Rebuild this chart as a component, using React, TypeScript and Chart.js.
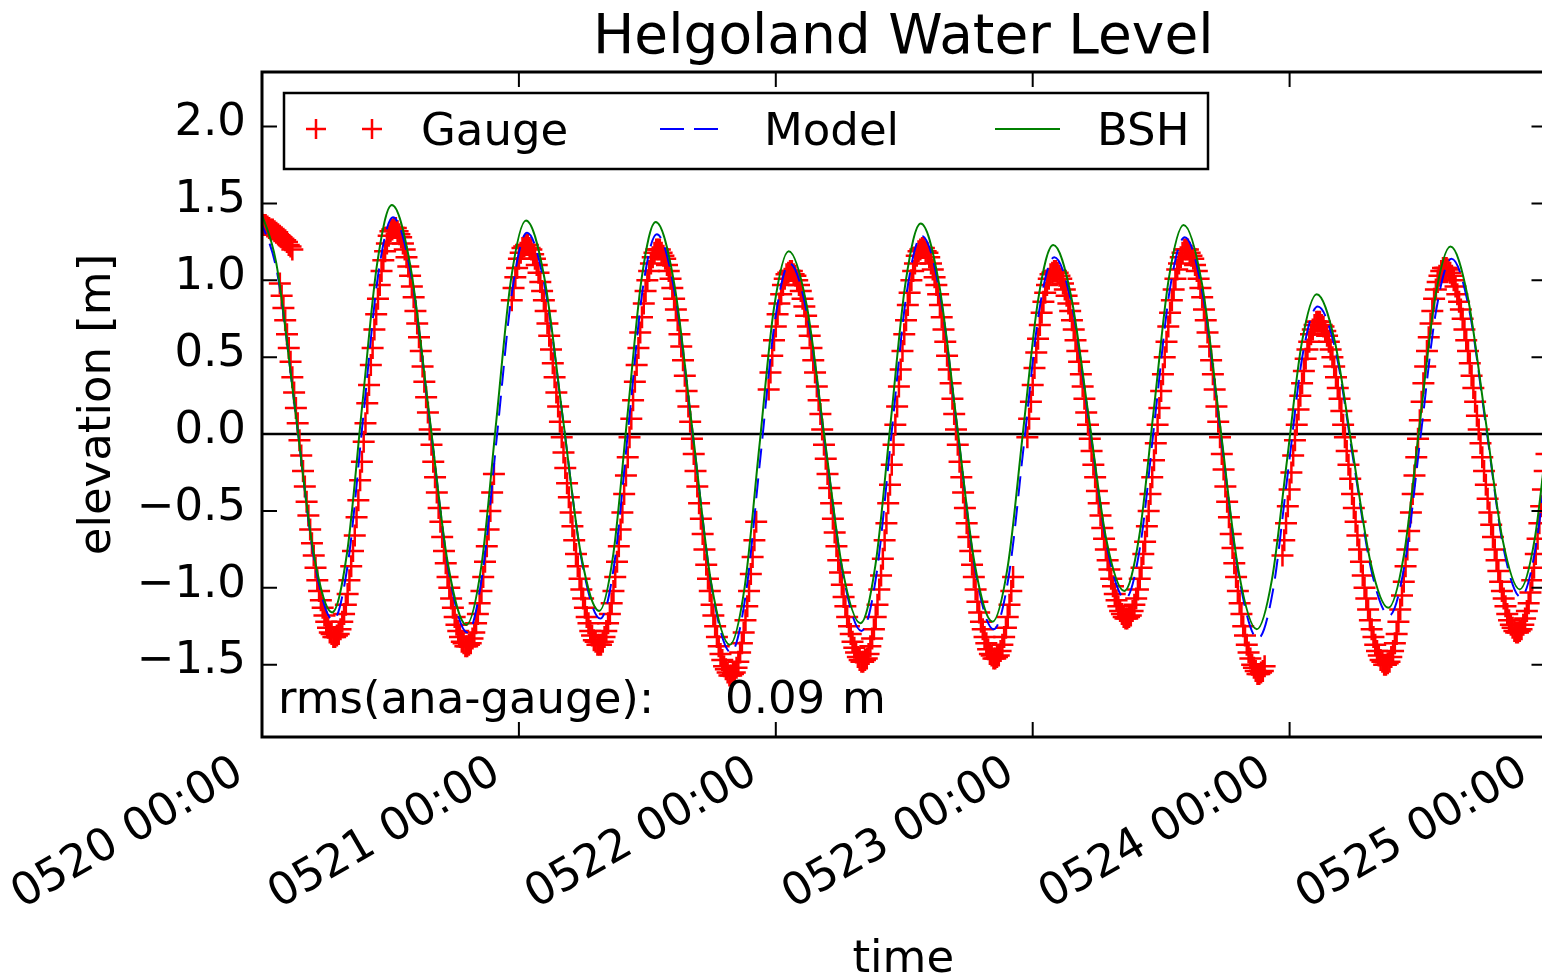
import React, { useEffect, useRef } from 'react';
import { Chart, registerables } from 'chart.js';

Chart.register(...registerables);

// ---------- texts ----------
const TITLE = 'Helgoland Water Level';
const X_TITLE = 'time';
const Y_TITLE = 'elevation [m]';
const RMS_LABEL = 'rms(ana-gauge):';
const RMS_VALUE = '0.09';
const RMS_UNIT = 'm';
const SERIES_NAMES = ['Gauge', 'Model', 'BSH'];

// ---------- axes (hours since 0520 00:00) ----------
const X_MIN = 0;
const X_MAX = 120;
const X_TICK_HOURS = [0, 24, 48, 72, 96, 120];
const X_TICK_LABELS = ['0520 00:00', '0521 00:00', '0522 00:00', '0523 00:00', '0524 00:00', '0525 00:00'];
const Y_MIN = -1.97;
const Y_MAX = 2.355;
const Y_TICKS = [-1.5, -1.0, -0.5, 0.0, 0.5, 1.0, 1.5, 2.0];

// ---------- gauge (10-minute samples) ----------
const GAUGE_STEP_HOURS = 1 / 6;
const GAUGE_CLUSTER_START = 0;
const GAUGE_CLUSTER = [1.37, 1.36, 1.36, 1.35, 1.34, 1.33, 1.33, 1.32, 1.31, 1.30, 1.29, 1.28, 1.27, 1.26, 1.25, 1.23, 1.22, 1.20];
const GAUGE_START = 10 / 6;
const GAUGE: (number | null)[] = [
  0.98, 0.90, 0.82, 0.74, 0.65, 0.56, 0.47, 0.37, 0.27, 0.17, 0.07, -0.04, -0.14, -0.24, -0.34, -0.44, -0.53, -0.62, -0.71, -0.79, -0.87, -0.95, -1.02, -1.08, -1.13, -1.18, -1.22, -1.26, -1.29, -1.30, -1.32, -1.32,
  -1.31, -1.30, -1.27, -1.22, -1.17, -1.11, -1.04, -0.95, -0.86, -0.76, -0.66, -0.54, -0.43, -0.30, -0.18, -0.05, 0.07, 0.20, 0.32, 0.45, 0.56, 0.68, 0.78, 0.88, 0.97, 1.06, 1.13, 1.19, 1.24, 1.29, 1.32, 1.33, 1.34,
  1.34, 1.32, 1.30, 1.28, 1.24, 1.20, 1.15, 1.09, 1.03, 0.96, 0.89, 0.80, 0.72, 0.63, 0.54, 0.44, 0.34, 0.24, 0.14, 0.03, -0.07, -0.18, -0.28, -0.38, -0.48, -0.57, -0.67, -0.76, -0.84, -0.93, -1.00, -1.07, -1.13, -1.19, -1.24, -1.28, -1.32, -1.35, -1.36, -1.38, -1.38,
  -1.37, -1.36, -1.33, -1.29, -1.23, -1.17, -1.10, -1.02, -0.93, -0.83, -0.73, -0.62, -0.50, -0.38, -0.26, null, null, null, null, null, null, null, null, null, 0.87, 0.95, 1.02, 1.08, 1.14, 1.18, 1.21, 1.22, 1.23,
  1.23, 1.21, 1.20, 1.17, 1.14, 1.10, 1.05, 0.99, 0.93, 0.87, 0.80, 0.72, 0.64, 0.55, 0.46, 0.37, 0.27, 0.18, 0.08, -0.02, -0.12, -0.22, -0.32, -0.41, -0.51, -0.60, -0.69, -0.78, -0.86, -0.94, -1.01, -1.07, -1.13, -1.19, -1.23, -1.28, -1.31, -1.34, -1.35, -1.37, -1.37,
  -1.37, -1.35, -1.32, -1.28, -1.23, -1.17, -1.10, -1.02, -0.93, -0.83, -0.73, -0.62, -0.51, -0.39, -0.27, -0.15, -0.02, 0.10, 0.22, 0.34, 0.45, 0.56, 0.66, 0.76, 0.85, 0.93, 1.00, 1.06, 1.11, 1.15, 1.18, 1.20, 1.20,
  1.20, 1.18, 1.16, 1.14, 1.10, 1.06, 1.01, 0.95, 0.88, 0.81, 0.74, 0.65, 0.57, 0.48, 0.38, 0.28, 0.18, 0.08, -0.03, -0.13, -0.24, -0.34, -0.45, -0.55, -0.65, -0.75, -0.85, -0.94, -1.02, -1.11, -1.18, -1.25, -1.32, -1.38, -1.43, -1.47, -1.51, -1.53, -1.55, -1.57, -1.57,
  -1.56, -1.55, -1.52, -1.48, -1.42, -1.36, -1.29, -1.21, -1.12, -1.02, -0.91, -0.80, -0.69, -0.57, null, null, null, null, null, null, 0.29, 0.40, 0.51, 0.61, 0.70, 0.78, 0.85, 0.91, 0.97, 1.01, 1.04, 1.05, 1.06,
  1.06, 1.04, 1.03, 1.00, 0.97, 0.93, 0.88, 0.83, 0.77, 0.70, 0.64, 0.56, 0.48, 0.40, 0.31, 0.22, 0.13, 0.03, -0.07, -0.16, -0.26, -0.35, -0.45, -0.55, -0.64, -0.73, -0.82, -0.90, -0.98, -1.06, -1.12, -1.19, -1.25, -1.30, -1.35, -1.39, -1.42, -1.45, -1.47, -1.48, -1.48,
  -1.47, -1.46, -1.43, -1.38, -1.33, -1.27, -1.19, -1.11, -1.01, -0.92, -0.81, -0.69, -0.58, -0.45, -0.33, -0.20, -0.07, 0.06, 0.18, 0.31, 0.42, 0.54, 0.65, 0.74, 0.84, 0.92, 1.00, 1.06, 1.11, 1.16, 1.19, 1.20, 1.21,
  1.21, 1.19, 1.18, 1.15, 1.11, 1.07, 1.02, 0.97, 0.91, 0.84, 0.76, 0.68, 0.60, 0.51, 0.42, 0.33, 0.23, 0.13, 0.03, -0.07, -0.18, -0.28, -0.38, -0.48, -0.58, -0.67, -0.76, -0.85, -0.93, -1.01, -1.09, -1.16, -1.22, -1.27, -1.32, -1.36, -1.40, -1.43, -1.44, -1.46, -1.46,
  -1.45, -1.44, -1.41, -1.37, -1.32, -1.26, -1.19, -1.11, -1.02, -0.93, null, null, null, null, null, null, null, -0.02, 0.10, 0.21, 0.32, 0.43, 0.53, 0.62, 0.71, 0.79, 0.86, 0.92, 0.97, 1.01, 1.04, 1.05, 1.06,
  1.06, 1.05, 1.03, 1.01, 0.98, 0.94, 0.90, 0.85, 0.80, 0.74, 0.68, 0.61, 0.54, 0.47, 0.39, 0.31, 0.23, 0.14, 0.06, -0.03, -0.11, -0.20, -0.28, -0.37, -0.45, -0.53, -0.61, -0.68, -0.75, -0.82, -0.88, -0.94, -0.99, -1.04, -1.08, -1.12, -1.15, -1.17, -1.19, -1.20, -1.20,
  -1.19, -1.18, -1.15, -1.11, -1.07, -1.01, -0.94, -0.87, -0.78, -0.70, -0.60, -0.50, -0.39, -0.28, -0.17, -0.06, 0.06, 0.17, 0.28, 0.39, 0.50, 0.60, 0.70, 0.79, 0.87, 0.94, 1.01, 1.07, 1.11, 1.15, 1.18, 1.20, 1.20,
  1.20, 1.18, 1.16, 1.14, 1.10, 1.06, 1.01, 0.95, 0.89, 0.81, 0.74, 0.66, 0.57, 0.48, 0.39, 0.29, 0.18, 0.08, -0.02, -0.13, -0.23, -0.34, -0.44, -0.54, -0.65, -0.74, -0.84, -0.93, -1.02, -1.10, -1.17, -1.25, -1.31, -1.37, -1.42, -1.46, -1.50, -1.52, -1.54, -1.56, -1.56,
  -1.55, -1.54, -1.51, null, null, null, null, null, null, null, null, null, -0.79, -0.69, -0.58, -0.47, -0.36, -0.25, -0.14, -0.04, 0.06, 0.16, 0.25, 0.33, 0.41, 0.49, 0.55, 0.60, 0.65, 0.68, 0.71, 0.73, 0.73,
  0.73, 0.71, 0.70, 0.67, 0.64, 0.60, 0.55, 0.50, 0.44, 0.37, 0.30, 0.23, 0.15, 0.06, -0.02, -0.11, -0.20, -0.29, -0.39, -0.48, -0.57, -0.66, -0.75, -0.83, -0.92, -1.00, -1.07, -1.14, -1.21, -1.27, -1.32, -1.37, -1.41, -1.44, -1.47, -1.48, -1.50, -1.50,
  -1.49, -1.48, -1.45, -1.41, -1.36, -1.30, -1.22, -1.14, -1.05, -0.96, -0.86, -0.75, -0.63, -0.51, -0.39, -0.27, -0.15, -0.03, 0.09, 0.21, 0.33, 0.44, 0.54, 0.63, 0.72, 0.80, 0.88, 0.94, 0.99, 1.03, 1.06, 1.08, 1.08,
  1.08, 1.07, 1.05, 1.03, 1.00, 0.96, 0.91, 0.86, 0.81, 0.75, 0.68, 0.61, 0.54, 0.46, 0.38, 0.30, 0.21, 0.12, 0.03, -0.06, -0.15, -0.24, -0.33, -0.42, -0.51, -0.59, -0.67, -0.75, -0.82, -0.89, -0.96, -1.02, -1.07, -1.12, -1.17, -1.21, -1.24, -1.26, -1.28, -1.29, -1.29,
  -1.28, -1.27, -1.24, -1.20, -1.15, -1.10, -1.03, -0.95, -0.87, -0.78, -0.68, -0.58, -0.47, -0.36, -0.24, -0.13,
];

// ---------- BSH (turning points and intermediate readings) ----------
const BSH_HOURS = [-0.4, 1.34, 3.08, 4.81, 6.55, 7.95, 9.34, 10.74, 12.13, 13.87, 15.62, 17.36, 19.1, 20.49, 21.88, 23.27, 24.66, 26.37, 28.08, 29.79, 31.5, 32.82, 34.14, 35.46, 36.78, 38.51, 40.24, 41.97, 43.7, 45.08, 46.45, 47.83, 49.2, 50.88, 52.55, 54.23, 55.9, 57.31, 58.72, 60.13, 61.54, 63.22, 64.9, 66.57, 68.25, 69.67, 71.09, 72.5, 73.92, 75.58, 77.24, 78.89, 80.55, 81.94, 83.33, 84.71, 86.1, 87.81, 89.52, 91.23, 92.94, 94.34, 95.74, 97.13, 98.53, 100.2, 101.88, 103.55, 105.22, 106.67, 108.13, 109.58, 111.03, 112.65, 114.27, 115.88, 117.5, 118.88, 120.25, 121.63, 123.0];
const BSH_LEVEL = [1.50, 1.11, 0.17, -0.77, -1.16, -0.77, 0.17, 1.10, 1.49, 1.09, 0.13, -0.84, -1.24, -0.86, 0.08, 1.01, 1.39, 1.02, 0.12, -0.78, -1.15, -0.78, 0.12, 1.01, 1.38, 0.98, 0.01, -0.97, -1.37, -1.00, -0.09, 0.82, 1.19, 0.84, -0.02, -0.88, -1.23, -0.85, 0.07, 0.99, 1.37, 0.99, 0.08, -0.84, -1.22, -0.86, 0.01, 0.87, 1.23, 0.90, 0.11, -0.69, -1.02, -0.67, 0.17, 1.01, 1.36, 0.98, 0.05, -0.89, -1.27, -0.95, -0.18, 0.59, 0.91, 0.61, -0.11, -0.83, -1.13, -0.79, 0.05, 0.88, 1.22, 0.89, 0.11, -0.68, -1.01, -0.69, 0.10, 0.88, 1.20];

// ---------- Model ----------
const MODEL_HOURS = [-0.3, 1.44, 3.18, 4.91, 6.65, 8.05, 9.44, 10.84, 12.23, 13.97, 15.72, 17.46, 19.2, 20.59, 21.98, 23.37, 24.76, 26.47, 28.18, 29.89, 31.6, 32.92, 34.24, 35.56, 36.88, 38.61, 40.34, 42.07, 43.8, 45.18, 46.55, 47.93, 49.3, 50.98, 52.65, 54.33, 56.0, 57.41, 58.82, 60.23, 61.64, 63.32, 65.0, 66.67, 68.35, 69.77, 71.19, 72.6, 74.02, 75.68, 77.34, 78.99, 80.65, 82.04, 83.43, 84.81, 86.2, 87.91, 89.62, 91.33, 93.04, 94.44, 95.84, 97.23, 98.63, 100.3, 101.98, 103.65, 105.32, 106.77, 108.23, 109.68, 111.13, 112.75, 114.37, 115.98, 117.6, 118.98, 120.35, 121.73, 123.1];
const MODEL_LEVEL = [1.42, 1.04, 0.11, -0.83, -1.21, -0.83, 0.10, 1.03, 1.41, 1.02, 0.06, -0.90, -1.29, -0.91, 0.01, 0.93, 1.31, 0.94, 0.06, -0.83, -1.20, -0.84, 0.05, 0.94, 1.30, 0.90, -0.06, -1.02, -1.42, -1.05, -0.16, 0.74, 1.11, 0.76, -0.09, -0.93, -1.28, -0.91, 0.01, 0.92, 1.29, 0.92, 0.01, -0.90, -1.27, -0.92, -0.06, 0.80, 1.15, 0.83, 0.04, -0.75, -1.07, -0.73, 0.11, 0.94, 1.28, 0.90, -0.03, -0.95, -1.33, -1.02, -0.25, 0.52, 0.83, 0.54, -0.18, -0.89, -1.18, -0.84, -0.02, 0.80, 1.14, 0.82, 0.04, -0.74, -1.06, -0.74, 0.03, 0.80, 1.12];

// ---------- styles ----------
const RED = '#ff0000';
const BLUE = '#0000ff';
const GREEN = '#008000';
const FONT = "'DejaVu Sans', 'Liberation Sans', sans-serif";

const fmtY = (v: number) => (v < 0 ? '\u2212' + Math.abs(v).toFixed(1) : v.toFixed(1));

const decor = {
  id: 'decor',
  beforeDatasetsDraw(chart: any) {
    const { ctx, chartArea: a, scales } = chart;
    const y0 = scales.y.getPixelForValue(0);
    ctx.save();
    ctx.strokeStyle = '#000';
    ctx.lineWidth = 2.5;
    ctx.beginPath();
    ctx.moveTo(a.left, y0);
    ctx.lineTo(a.right, y0);
    ctx.stroke();
    ctx.restore();
  },
  afterDraw(chart: any) {
    const { ctx, chartArea: a, scales } = chart;
    const xs = scales.x;
    const ys = scales.y;
    ctx.save();
    // frame
    ctx.strokeStyle = '#000';
    ctx.lineWidth = 3;
    ctx.strokeRect(a.left, a.top, a.right - a.left, a.bottom - a.top);
    // inward ticks on all sides
    const TL = 15;
    ctx.lineWidth = 2;
    ctx.beginPath();
    X_TICK_HOURS.forEach((h) => {
      const px = xs.getPixelForValue(h);
      ctx.moveTo(px, a.bottom);
      ctx.lineTo(px, a.bottom - TL);
      ctx.moveTo(px, a.top);
      ctx.lineTo(px, a.top + TL);
    });
    Y_TICKS.forEach((v) => {
      const py = ys.getPixelForValue(v);
      ctx.moveTo(a.left, py);
      ctx.lineTo(a.left + TL, py);
      ctx.moveTo(a.right, py);
      ctx.lineTo(a.right - TL, py);
    });
    ctx.stroke();

    // titles
    const cx = (a.left + a.right) / 2;
    ctx.fillStyle = '#000';
    ctx.textBaseline = 'alphabetic';
    ctx.textAlign = 'center';
    ctx.font = `55px ${FONT}`;
    ctx.fillText(TITLE, cx - 1, 53);
    ctx.font = `45px ${FONT}`;
    ctx.fillText(X_TITLE, cx - 1, 972);
    ctx.save();
    ctx.translate(110, (a.top + a.bottom) / 2);
    ctx.rotate(-Math.PI / 2);
    ctx.fillText(Y_TITLE, 0, 0);
    ctx.restore();

    // rms annotation
    ctx.textAlign = 'left';
    ctx.fillText(RMS_LABEL, a.left + 16, 713);
    ctx.fillText(RMS_VALUE, a.left + 463, 713);
    ctx.fillText(RMS_UNIT, a.left + 580, 713);

    // legend
    const lx = a.left + 22;
    const ly = 93;
    const lw = 924;
    const lh = 76;
    ctx.fillStyle = '#fff';
    ctx.fillRect(lx, ly, lw, lh);
    ctx.strokeStyle = '#000';
    ctx.lineWidth = 2.5;
    ctx.strokeRect(lx, ly, lw, lh);
    const my = ly + 36;
    ctx.strokeStyle = RED;
    ctx.lineWidth = 2.5;
    [lx + 32, lx + 88].forEach((px) => {
      ctx.beginPath();
      ctx.moveTo(px - 10, my);
      ctx.lineTo(px + 10, my);
      ctx.moveTo(px, my - 10);
      ctx.lineTo(px, my + 10);
      ctx.stroke();
    });
    ctx.strokeStyle = BLUE;
    ctx.lineWidth = 2;
    ctx.setLineDash([24, 10]);
    ctx.beginPath();
    ctx.moveTo(lx + 376, my);
    ctx.lineTo(lx + 435, my);
    ctx.stroke();
    ctx.setLineDash([]);
    ctx.strokeStyle = GREEN;
    ctx.beginPath();
    ctx.moveTo(lx + 711, my);
    ctx.lineTo(lx + 776, my);
    ctx.stroke();
    ctx.fillStyle = '#000';
    ctx.font = `45px ${FONT}`;
    const names = chart.data.datasets.map((d: any) => d.label);
    ctx.fillText(names[0], lx + 137, ly + 52);
    ctx.fillText(names[1], lx + 480, ly + 52);
    ctx.fillText(names[2], lx + 813, ly + 52);
    ctx.restore();
  },
};

export default function App() {
  const ref = useRef<HTMLCanvasElement>(null);

  useEffect(() => {
    const canvas = ref.current;
    if (!canvas) return;
    const gaugePts: { x: number; y: number }[] = [];
    GAUGE_CLUSTER.forEach((v, i) => gaugePts.push({ x: GAUGE_CLUSTER_START + i * GAUGE_STEP_HOURS, y: v }));
    GAUGE.forEach((v, i) => {
      if (v !== null) gaugePts.push({ x: GAUGE_START + i * GAUGE_STEP_HOURS, y: v });
    });
    const modelPts = MODEL_HOURS.map((h, i) => ({ x: h, y: MODEL_LEVEL[i] }));
    const bshPts = BSH_HOURS.map((h, i) => ({ x: h, y: BSH_LEVEL[i] }));

    const tickFont = { family: FONT, size: 45 };
    const chart = new Chart(canvas, {
      type: 'scatter',
      data: {
        datasets: [
          {
            label: SERIES_NAMES[0],
            data: gaugePts,
            showLine: false,
            pointStyle: 'cross',
            pointRadius: 11,
            pointHoverRadius: 11,
            pointBorderWidth: 2.5,
            borderColor: RED,
            pointBorderColor: RED,
            backgroundColor: RED,
            order: 3,
            clip: 0,
          } as any,
          {
            label: SERIES_NAMES[1],
            type: 'line',
            data: modelPts,
            borderColor: BLUE,
            borderWidth: 2,
            borderDash: [20, 10],
            pointRadius: 0,
            fill: false,
            cubicInterpolationMode: 'monotone',
            order: 2,
            clip: 0,
          } as any,
          {
            label: SERIES_NAMES[2],
            type: 'line',
            data: bshPts,
            borderColor: GREEN,
            borderWidth: 2,
            pointRadius: 0,
            fill: false,
            cubicInterpolationMode: 'monotone',
            order: 1,
            clip: 0,
          } as any,
        ],
      },
      options: {
        animation: false,
        responsive: false,
        maintainAspectRatio: false,
        devicePixelRatio: 1,
        events: [],
        layout: { padding: { left: 0, top: 72, right: 12, bottom: 0 } },
        plugins: {
          legend: { display: false },
          title: { display: false },
          tooltip: { enabled: false },
        },
        scales: {
          x: {
            type: 'linear',
            min: X_MIN,
            max: X_MAX,
            grid: { display: false, drawTicks: false },
            border: { display: false },
            afterBuildTicks: (s: any) => {
              s.ticks = X_TICK_HOURS.map((v) => ({ value: v }));
            },
            afterFit: (s: any) => {
              s.height = 240;
              s.paddingLeft = 0;
              s.paddingRight = 0;
            },
            ticks: {
              autoSkip: false,
              minRotation: 30,
              maxRotation: 30,
              padding: 9,
              labelOffset: -22,
              color: '#000',
              font: tickFont,
              callback: (v: any) => {
                const i = X_TICK_HOURS.indexOf(Number(v));
                return i >= 0 ? X_TICK_LABELS[i] : '';
              },
            },
          },
          y: {
            type: 'linear',
            min: Y_MIN,
            max: Y_MAX,
            grid: { display: false, drawTicks: false },
            border: { display: false },
            afterBuildTicks: (s: any) => {
              s.ticks = Y_TICKS.map((v) => ({ value: v }));
            },
            afterFit: (s: any) => {
              s.width = 262;
              s.paddingTop = 0;
              s.paddingBottom = 0;
            },
            ticks: {
              padding: 16,
              labelOffset: -3,
              color: '#000',
              font: tickFont,
              callback: (v: any) => fmtY(Number(v)),
            },
          },
        },
      } as any,
      plugins: [decor],
    });
    return () => chart.destroy();
  }, []);

  return (
    <div style={{ position: 'absolute', left: 0, top: 0, width: 1542, height: 977, overflow: 'hidden', background: '#fff' }}>
      <canvas ref={ref} width={1560} height={977} style={{ display: 'block', width: 1560, height: 977 }} />
    </div>
  );
}
